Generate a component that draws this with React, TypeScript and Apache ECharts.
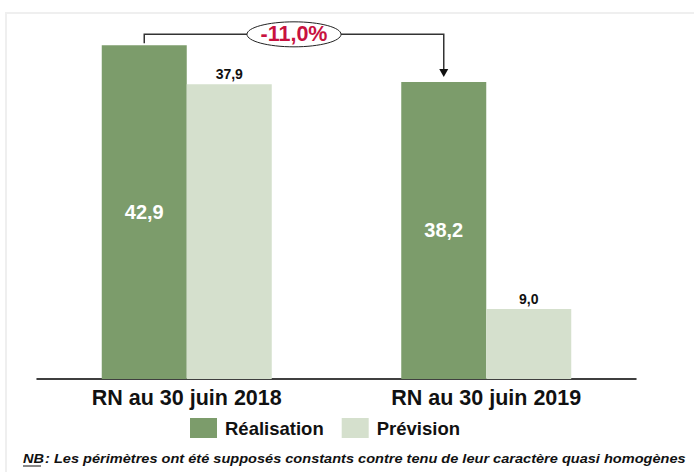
import React, { useEffect, useRef } from "react";
import * as echarts from "echarts";

const categories = ["RN au 30 juin 2018", "RN au 30 juin 2019"];
const realisation = [42.9, 38.2];
const prevision = [37.9, 9.0];
const seriesNames = ["Réalisation", "Prévision"];
const footnoteLead = "NB";
const footnoteText = " : Les périmètres ont été supposés constants contre tenu de leur caractère quasi homogènes";

const DARK = "#7C9C6B";
const LIGHT = "#D5E0CD";
const FONT = "'Liberation Sans', Arial, sans-serif";

const fmt = (v: number) => v.toFixed(1).replace(".", ",");

export default function App() {
  const ref = useRef<HTMLDivElement>(null);
  useEffect(() => {
    document.body.style.margin = "0";
    const chart = echarts.init(ref.current!, undefined, { renderer: "svg" });
    const barWidth = 85;
    chart.setOption({
      animation: false,
      textStyle: { fontFamily: FONT },
      grid: { left: 37, right: 58, top: 29, bottom: 93 },
      xAxis: {
        type: "category",
        data: categories,
        axisTick: { show: false },
        axisLine: { lineStyle: { color: "#000", width: 1.5 } },
        axisLabel: { fontSize: 21.5, fontWeight: "bold", color: "#111", margin: 8, fontFamily: FONT },
      },
      yAxis: { type: "value", min: 0, max: 45, show: false, splitLine: { show: false } },
      legend: {
        left: 185,
        top: 413,
        itemWidth: 27,
        itemHeight: 20,
        itemGap: 18,
        icon: "rect",
        textStyle: { fontSize: 18.5, fontWeight: "bold", color: "#111", padding: [0, 0, 0, 3], fontFamily: FONT },
        data: seriesNames,
      },
      series: [
        {
          name: seriesNames[0],
          type: "bar",
          data: realisation,
          barWidth,
          barGap: "0%",
          itemStyle: { color: DARK },
          label: {
            show: true,
            position: "inside",
            color: "#fff",
            fontSize: 20,
            fontWeight: "bold",
            fontFamily: FONT,
            formatter: (p: any) => fmt(p.value),
          },
        },
        {
          name: seriesNames[1],
          type: "bar",
          data: prevision,
          barWidth,
          barGap: "0%",
          itemStyle: { color: LIGHT },
          label: {
            show: true,
            position: "top",
            distance: 3,
            color: "#111",
            fontSize: 14,
            fontWeight: "bold",
            fontFamily: FONT,
            formatter: (p: any) => fmt(p.value),
          },
        },
      ],
    });

    const p1 = chart.convertToPixel({ xAxisIndex: 0, yAxisIndex: 0 } as any, [0, realisation[0]]) as number[];
    const p2 = chart.convertToPixel({ xAxisIndex: 0, yAxisIndex: 0 } as any, [1, realisation[1]]) as number[];
    const x1 = p1[0] - barWidth / 2;
    const x2 = p2[0] - barWidth / 2;
    const yB = p1[1] - 11;
    const cx = (x1 + x2) / 2;
    const rx = 47;
    const ry = 12.5;
    const change = ((realisation[1] - realisation[0]) / realisation[0]) * 100;
    const changeLabel = change.toFixed(1).replace(".", ",") + "%";
    const tipY = p2[1] - 5;
    const lineStyle = { stroke: "#333", lineWidth: 1.5, fill: "none" };

    chart.setOption({
      graphic: [
        { type: "rect", shape: { x: 6, y: 13, width: 720, height: 480 }, style: { fill: "none", stroke: "#EFEFEF", lineWidth: 2 }, silent: true, z: -1 },
        { type: "polyline", shape: { points: [[x1, p1[1] - 2], [x1, yB], [cx - rx, yB]] }, style: lineStyle },
        { type: "polyline", shape: { points: [[cx + rx, yB], [x2, yB], [x2, tipY - 7]] }, style: lineStyle },
        { type: "polygon", shape: { points: [[x2 - 4.5, tipY - 8], [x2 + 4.5, tipY - 8], [x2, tipY]] }, style: { fill: "#111" } },
        { type: "ellipse", shape: { cx, cy: yB, rx, ry }, style: { fill: "#fff", stroke: "#222", lineWidth: 1 } },
        {
          type: "text",
          x: cx,
          y: yB,
          style: { text: changeLabel, fill: "#C8123F", fontSize: 21.5, fontWeight: "bold", fontFamily: FONT, align: "center", verticalAlign: "middle" },
        },
        {
          type: "text",
          x: 23,
          y: 459,
          scaleX: 1.12,
          style: { text: footnoteLead, fill: "#111", fontSize: 13, fontWeight: "bold", fontStyle: "italic", fontFamily: FONT, verticalAlign: "middle" },
        },
        { type: "line", shape: { x1: 23, y1: 466, x2: 41, y2: 466 }, style: { stroke: "#111", lineWidth: 1 } },
        {
          type: "text",
          x: 41,
          y: 459,
          scaleX: 1.12,
          style: { text: footnoteText, fill: "#111", fontSize: 13, fontWeight: "bold", fontStyle: "italic", fontFamily: FONT, verticalAlign: "middle" },
        },
      ],
    });
    return () => chart.dispose();
  }, []);
  return <div ref={ref} style={{ width: 694, height: 472 }} />;
}
